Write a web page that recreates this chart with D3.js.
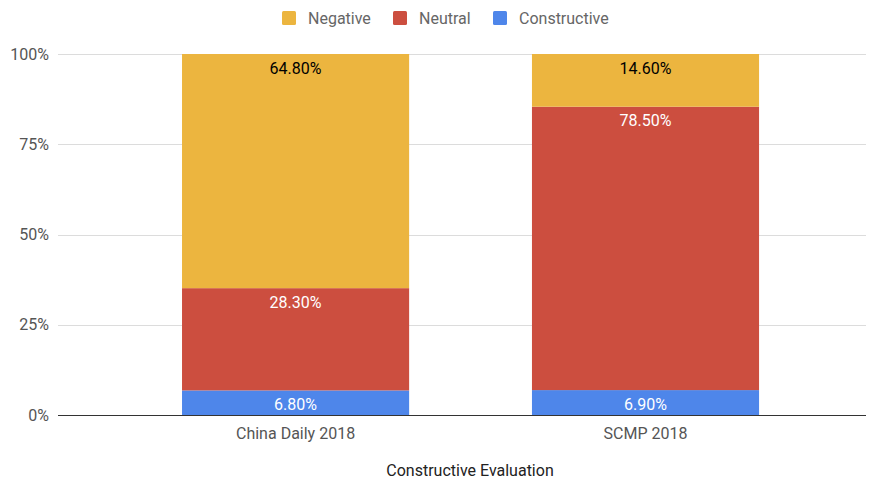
<!DOCTYPE html>
<html>
<head>
<meta charset="utf-8">
<script src="https://cdn.jsdelivr.net/npm/d3@7"></script>
<style>
body { margin: 0; background: #fff; }
svg text { font-family: Roboto, "Noto Sans", sans-serif; }
</style>
</head>
<body>
<div id="chart"></div>
<script>
// data
const categories = ['China Daily 2018', 'SCMP 2018'];
const seriesNames = ['Constructive', 'Neutral', 'Negative'];
const constructive = [6.8, 6.9];
const neutral = [28.3, 78.5];
const negative = [64.8, 14.6];
const yTicks = [0, 25, 50, 75, 100];
const legendOrder = ['Negative', 'Neutral', 'Constructive'];

const colors = { Constructive: '#4e86ea', Neutral: '#cc4e3f', Negative: '#ecb53f' };
const labelColors = { Constructive: '#fff', Neutral: '#fff', Negative: '#000' };

const width = 869, height = 483;
const margin = { left: 58, right: 3, top: 54, bottom: 68 };
const fontSize = 16;

let svg = d3.select('#chart')
    .append('svg')
    .attr('width', width)
    .attr('height', height);

let x = d3.scaleBand()
    .domain(categories)
    .range([margin.left, width - margin.right])
    .paddingInner(0.351)
    .paddingOuter(0.33)
    .align(0.537);

let y = d3.scaleLinear()
    .domain([0, 100])
    .range([height - margin.bottom, margin.top]);

// table built from the arrays, normalised to 100% like the original
let rows = categories.map(function(c, i) {
    let total = constructive[i] + neutral[i] + negative[i];
    return {
        cat: c,
        Constructive: constructive[i] / total * 100,
        Neutral: neutral[i] / total * 100,
        Negative: negative[i] / total * 100,
        raw: { Constructive: constructive[i], Neutral: neutral[i], Negative: negative[i] }
    };
});

let stacked = d3.stack().keys(seriesNames)(rows);

// gridlines
svg.append('g')
    .selectAll('line')
    .data(yTicks.filter(function(t) { return t > 0; }))
    .enter()
    .append('line')
    .attr('x1', margin.left)
    .attr('x2', width - margin.right)
    .attr('y1', function(d) { return Math.round(y(d)) + 0.5; })
    .attr('y2', function(d) { return Math.round(y(d)) + 0.5; })
    .attr('stroke', '#dcdcdc')
    .attr('stroke-width', 1);

// y tick labels
svg.append('g')
    .selectAll('text')
    .data(yTicks)
    .enter()
    .append('text')
    .attr('x', 49)
    .attr('y', function(d) { return y(d); })
    .attr('dy', '0.35em')
    .attr('text-anchor', 'end')
    .attr('font-size', fontSize)
    .attr('fill', '#555')
    .text(function(d) { return d + '%'; });

// bars
let layers = svg.append('g')
    .selectAll('g')
    .data(stacked)
    .enter()
    .append('g')
    .attr('fill', function(d) { return colors[d.key]; });

layers.selectAll('rect')
    .data(function(d) { return d; })
    .enter()
    .append('rect')
    .attr('x', function(d) { return x(d.data.cat); })
    .attr('width', x.bandwidth())
    .attr('y', function(d) { return y(d[1]); })
    .attr('height', function(d) { return y(d[0]) - y(d[1]); });

// value labels
layers.each(function(layer) {
    d3.select(this).selectAll('text')
        .data(layer)
        .enter()
        .append('text')
        .attr('x', function(d) { return x(d.data.cat) + x.bandwidth() / 2; })
        .attr('y', function(d) { return y(d[1]) + 14; })
        .attr('dy', '0.35em')
        .attr('text-anchor', 'middle')
        .attr('font-size', fontSize)
        .attr('fill', labelColors[layer.key])
        .text(function(d) { return d.data.raw[layer.key].toFixed(2) + '%'; });
});

// baseline
svg.append('line')
    .attr('x1', margin.left)
    .attr('x2', width - margin.right)
    .attr('y1', y(0) + 0.5)
    .attr('y2', y(0) + 0.5)
    .attr('stroke', '#333')
    .attr('stroke-width', 1);

// category labels
svg.append('g')
    .selectAll('text')
    .data(categories)
    .enter()
    .append('text')
    .attr('x', function(d) { return x(d) + x.bandwidth() / 2; })
    .attr('y', 433)
    .attr('dy', '0.35em')
    .attr('text-anchor', 'middle')
    .attr('font-size', fontSize)
    .attr('fill', '#555')
    .text(function(d) { return d; });

// axis title
svg.append('text')
    .attr('x', 470)
    .attr('y', 470)
    .attr('dy', '0.35em')
    .attr('text-anchor', 'middle')
    .attr('font-size', fontSize)
    .attr('fill', '#222')
    .text('Constructive Evaluation');

// legend
let legendX = [282, 393, 493];
let legend = svg.append('g')
    .selectAll('g')
    .data(legendOrder)
    .enter()
    .append('g')
    .attr('transform', function(d, i) { return 'translate(' + legendX[i] + ',11)'; });

legend.append('rect')
    .attr('width', 14)
    .attr('height', 14)
    .attr('rx', 1.5)
    .attr('fill', function(d) { return colors[d]; });

legend.append('text')
    .attr('x', 26)
    .attr('y', 7)
    .attr('dy', '0.35em')
    .attr('font-size', fontSize)
    .attr('fill', '#666')
    .text(function(d) { return d; });
</script>
</body>
</html>
